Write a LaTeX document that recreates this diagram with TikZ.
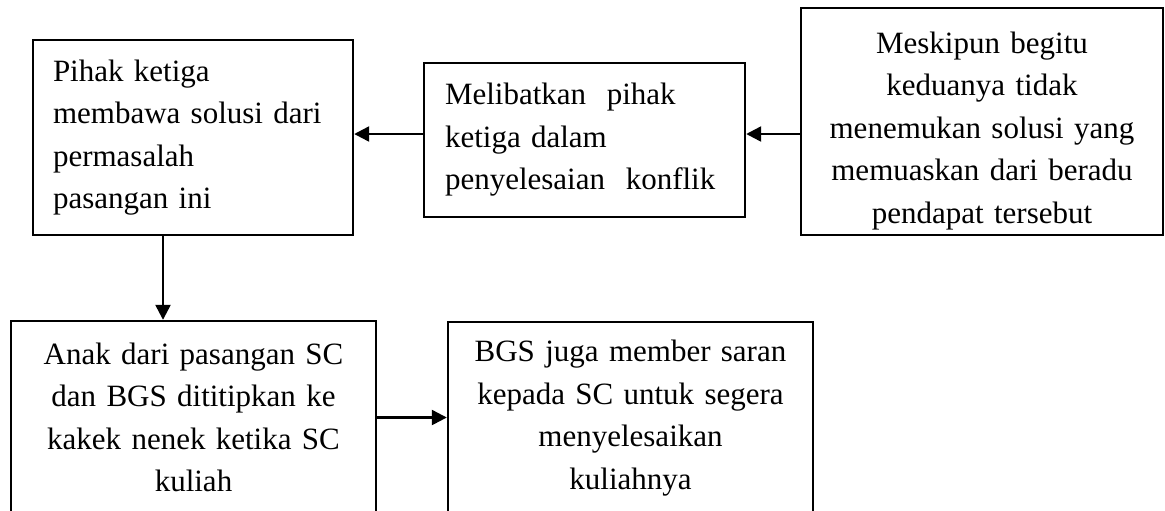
\documentclass[tikz,border=0pt]{standalone}
\usepackage{fontspec}
\setmainfont{Liberation Serif}
\usetikzlibrary{arrows.meta}

\begin{document}
\begin{tikzpicture}[x=0.5pt, y=-0.5pt,
    kotak/.style={draw, line width=1.2pt, inner xsep=10pt, inner ysep=0pt,
        font=\fontsize{15.5}{21.25}\selectfont},
    panah/.style={-{Triangle[length=7.5pt,width=7.5pt]}, line width=1.2pt}]
    \useasboundingbox (0,0) rectangle (1165,510);
    \clip (0,0) rectangle (1165,510);
    % Top row
    \node[kotak, align=left, text width=140pt, minimum height=97.5pt] (pihak) at (193,137.5)
        {Pihak ketiga\\membawa solusi dari\\permasalah\\pasangan ini};
    \node[kotak, align=left, inner xsep=10.5pt, text width=139.5pt, minimum height=77pt] (libat) at (584.5,140)
        {Melibatkan\ \ pihak\\ketiga dalam\\penyelesaian\ \ konflik};
    \node[kotak, align=center, inner xsep=8pt, text width=165pt, minimum height=113.5pt] (meskipun) at (982,121.5)
        {\rule{0pt}{20pt}Meskipun begitu\\keduanya tidak\\menemukan solusi yang\\memuaskan dari beradu\\pendapat tersebut};
    % Bottom row
    \node[kotak, align=center, inner xsep=8pt, text width=166.5pt, minimum height=96.5pt] (anak) at (193.5,417.5)
        {Anak dari pasangan SC\\dan BGS dititipkan ke\\kakek nenek ketika SC\\kuliah};
    \node[kotak, align=center, inner xsep=8pt, text width=166.5pt, minimum height=96pt] (saran) at (630.5,418)
        {BGS juga member saran\\kepada SC untuk segera\\menyelesaikan\\kuliahnya};
    % Arrows
    \coordinate (baris) at (0,134);
    \draw[panah] (meskipun.west |- baris) -- (libat.east |- baris);
    \draw[panah] (libat.west |- baris) -- (pihak.east |- baris);
    \draw[panah] ([xshift=-15pt]pihak.south) -- ([xshift=-15.25pt]anak.north);
    \draw[panah] (anak.east) -- (anak.east -| saran.west);
\end{tikzpicture}
\end{document}
